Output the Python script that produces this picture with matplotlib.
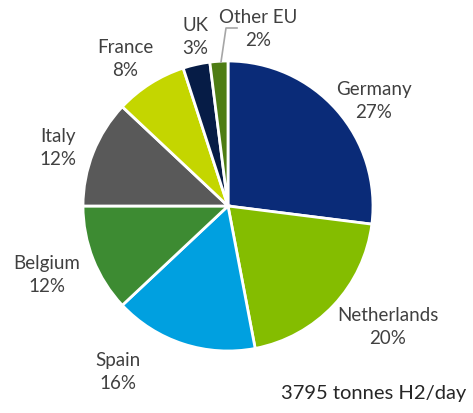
import matplotlib.pyplot as plt

# data
countries = ["Germany", "Netherlands", "Spain", "Belgium", "Italy", "France", "UK", "Other EU"]
shares = [27, 20, 16, 12, 12, 8, 3, 2]
colors = ["#0a2b78", "#84bd00", "#00a0e0", "#3d8b32", "#595959", "#c4d600", "#061c46", "#4e7d14"]
total_label = "3795 tonnes H2/day"

# label centres in pixel coordinates of the 473x414 image
label_px = [(374, 101), (388, 327), (118, 372), (47, 275), (58, 148), (125, 59), (195, 37), (258, 29)]

W, H = 473, 414
cx, cy, r = 228, 207, 145

plt.rcParams["font.family"] = ["Lato", "DejaVu Sans"]
fig = plt.figure(figsize=(W / 100, H / 100), dpi=100)
ax = fig.add_axes([(cx - r) / W, (H - cy - r) / H, 2 * r / W, 2 * r / H])
ax.pie(shares, colors=colors, startangle=90, counterclock=False,
       wedgeprops=dict(edgecolor="white", linewidth=2))
ax.set_xlim(-1, 1)
ax.set_ylim(-1, 1)
ax.set_aspect("equal")
ax.axis("off")


def to_data(px, py):
    return (px - cx) / r, (cy - py) / r


for name, val, (px, py) in zip(countries, shares, label_px):
    x, y = to_data(px, py)
    ax.text(x, y, f"{name}\n{val}%", ha="center", va="center", fontsize=13.5,
            color="#404040", linespacing=1.4, clip_on=False)

# leader line for Other EU
lx = [to_data(237, 29)[0], to_data(226, 29)[0], to_data(221, 63)[0]]
ly = [to_data(237, 29)[1], to_data(226, 29)[1], to_data(221, 63)[1]]
ax.plot(lx, ly, color="#a6a6a6", linewidth=1.2, clip_on=False)

tx, ty = to_data(466, 394)
ax.text(tx, ty, total_label, ha="right", va="center", fontsize=14.5,
        color="#262626", clip_on=False)

fig.savefig("out.png", dpi=100)
